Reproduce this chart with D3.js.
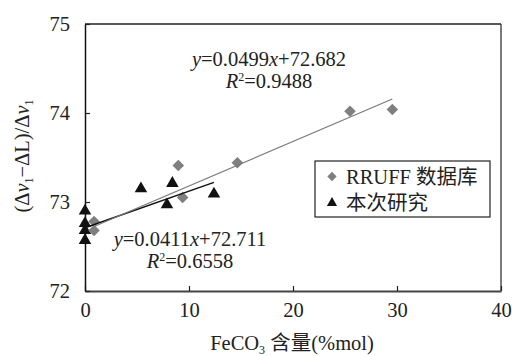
<!DOCTYPE html>
<html><head><meta charset="utf-8">
<script src="https://cdn.jsdelivr.net/npm/d3@7"></script>
<style>
body{margin:0;background:#fff;}
text{font-family:"Liberation Serif","Times New Roman",Times,"DejaVu Serif",serif,"Noto Sans CJK SC";fill:#222;}
</style></head>
<body><svg id="c" width="512" height="356"></svg>
<script>
const rruffX = [0.87, 0.87, 8.97, 9.39, 14.65, 25.48, 29.55];
const rruffY = [72.78, 72.68, 73.41, 73.05, 73.44, 74.02, 74.04];
const studyX = [0, 0, 0, 0, 5.38, 7.88, 8.4, 12.4];
const studyY = [72.90, 72.76, 72.68, 72.57, 73.15, 72.97, 73.21, 73.09];
const fitRruff = {slope: 0.0499, intercept: 72.682, r2: "0.9488", eq: "0.0499", ic: "72.682"};
const fitStudy = {slope: 0.0411, intercept: 72.711, r2: "0.6558", eq: "0.0411", ic: "72.711"};
const xTicks = [0, 10, 20, 30, 40];
const yTicks = [72, 73, 74, 75];
const legendLabels = ["RRUFF 数据库", "本次研究"];

const W = 512, H = 356, m = {l: 85, r: 11, t: 24, b: 65};
const svg = d3.select("#c");
const x = d3.scaleLinear().domain([0, 40]).range([m.l, W - m.r]);
const y = d3.scaleLinear().domain([72, 75]).range([H - m.b, m.t]);
const FS = 20.5;

svg.append("line").attr("x1", x(0)).attr("x2", x(40)).attr("y1", y(75)).attr("y2", y(75)).attr("stroke", "#222").attr("stroke-width", 1.3);
svg.append("line").attr("x1", x(40)).attr("x2", x(40)).attr("y1", y(75)).attr("y2", y(72)).attr("stroke", "#333").attr("stroke-width", 1.3);

const xa = svg.append("g").attr("transform", `translate(0,${y(72)})`)
  .call(d3.axisBottom(x).tickValues(xTicks).tickFormat(d3.format("d")).tickSize(-5).tickPadding(11).tickSizeOuter(0));
const ya = svg.append("g").attr("transform", `translate(${x(0)},0)`)
  .call(d3.axisLeft(y).tickValues(yTicks).tickFormat(d3.format("d")).tickSize(-5).tickPadding(15).tickSizeOuter(0));
xa.attr("font-family", null).attr("font-size", null);
ya.attr("font-family", null).attr("font-size", null);
xa.select(".domain").attr("stroke", "#444").attr("stroke-width", 2.2);
ya.select(".domain").attr("stroke", "#111").attr("stroke-width", 1.5);
svg.selectAll(".tick line").attr("stroke", "#222").attr("stroke-width", 1.2);
svg.selectAll(".tick text").attr("font-size", FS).attr("fill", "#222");

function fitLine(f, xs, color, w) {
  const x0 = d3.min(xs), x1 = d3.max(xs);
  svg.append("line").attr("x1", x(x0)).attr("y1", y(f.intercept + f.slope * x0))
    .attr("x2", x(x1)).attr("y2", y(f.intercept + f.slope * x1))
    .attr("stroke", color).attr("stroke-width", w);
}

const diamond = d3.symbol().type(d3.symbolDiamond2).size(85);
const tri = d3.symbol().type(d3.symbolTriangle).size(68);
svg.append("g").selectAll("path").data(studyX).join("path")
  .attr("d", tri).attr("transform", (d, i) => `translate(${x(d)},${y(studyY[i])})`).attr("fill", "#111");
svg.append("g").selectAll("path").data(rruffX).join("path")
  .attr("d", diamond).attr("transform", (d, i) => `translate(${x(d)},${y(rruffY[i])})`).attr("fill", "#7f7f7f");
fitLine(fitStudy, studyX, "#111", 1.5);
fitLine(fitRruff, rruffX, "#7a7a7a", 1.2);

function eq(f, cx, by) {
  const t1 = svg.append("text").attr("x", cx).attr("y", by).attr("text-anchor", "middle").attr("font-size", FS);
  t1.append("tspan").attr("font-style", "italic").text("y");
  t1.append("tspan").text("=" + f.eq);
  t1.append("tspan").attr("font-style", "italic").text("x");
  t1.append("tspan").text("+" + f.ic);
  const t2 = svg.append("text").attr("x", cx).attr("y", by + 22).attr("text-anchor", "middle").attr("font-size", FS);
  t2.append("tspan").attr("font-style", "italic").text("R");
  t2.append("tspan").attr("font-size", 12).attr("dy", -7).text("2");
  t2.append("tspan").attr("dy", 7).text("=" + f.r2);
}
eq(fitRruff, 269, 66);
eq(fitStudy, 190, 246);

const lg = svg.append("g");
lg.append("rect").attr("x", 315).attr("y", 161).attr("width", 175).attr("height", 56)
  .attr("fill", "#fff").attr("stroke", "#222").attr("stroke-width", 1.2);
lg.append("path").attr("d", d3.symbol().type(d3.symbolDiamond2).size(55)).attr("transform", "translate(332,176.5)").attr("fill", "#7f7f7f");
lg.append("path").attr("d", d3.symbol().type(d3.symbolTriangle).size(45)).attr("transform", "translate(332,203)").attr("fill", "#111");
lg.append("text").attr("x", 346).attr("y", 183.5).attr("font-size", FS).text(legendLabels[0]);
lg.append("text").attr("x", 346).attr("y", 210).attr("font-size", FS).text(legendLabels[1]);

const xl = svg.append("text").attr("x", 292).attr("y", 350).attr("text-anchor", "middle").attr("font-size", FS);
xl.append("tspan").text("FeCO");
xl.append("tspan").attr("font-size", 12).attr("dy", 4).text("3");
xl.append("tspan").attr("dy", -4).text(" 含量(%mol)");

const yl = svg.append("text").attr("transform", "translate(29,156) rotate(-90)").attr("text-anchor", "middle").attr("font-size", FS);
yl.append("tspan").text("(Δ");
yl.append("tspan").attr("font-style", "italic").text("v");
yl.append("tspan").attr("font-size", 12).attr("dy", 4).text("1");
yl.append("tspan").attr("dy", -4).text("−ΔL)/Δ");
yl.append("tspan").attr("font-style", "italic").text("v");
yl.append("tspan").attr("font-size", 12).attr("dy", 4).text("1");
</script></body></html>
